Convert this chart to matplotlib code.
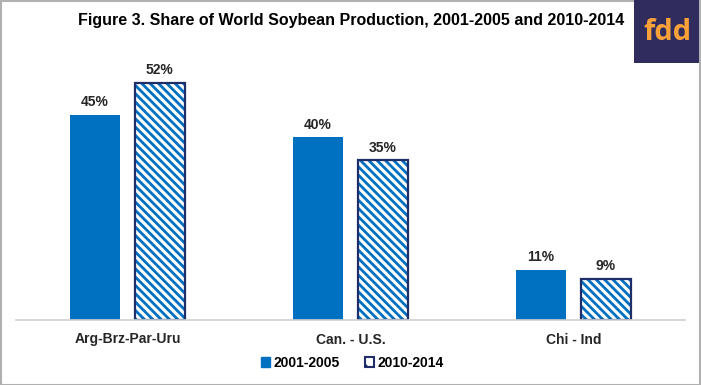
import matplotlib.pyplot as plt
import numpy as np
from matplotlib.patches import Rectangle

categories = ["Arg-Brz-Par-Uru", "Can. - U.S.", "Chi - Ind"]
share_2001_2005 = [45, 40, 11]
share_2010_2014 = [52, 35, 9]
series_names = ["2001-2005", "2010-2014"]

BLUE = "#0070C0"
NAVY = "#1F2E6B"
TEXT = "#262626"

plt.rcParams["font.family"] = ["Liberation Sans", "DejaVu Sans"]
plt.rcParams["hatch.linewidth"] = 2.0

fig = plt.figure(figsize=(7.01, 3.85), dpi=100)
ax = fig.add_axes([16 / 701, (385 - 320) / 385, (685 - 16) / 701, (320 - 46) / 385])

x = np.arange(len(categories))
w = 0.225
off = 0.145

ax.bar(x - off, share_2001_2005, w, color=BLUE, label=series_names[0])
# hatched bars: blue stripes, then a navy outline on top
ax.bar(x + off, share_2010_2014, w, color="white", edgecolor=BLUE, hatch="\\\\\\\\", linewidth=0)
ax.bar(x + off, share_2010_2014, w, fill=False, edgecolor=NAVY, linewidth=1.6)

for xi, v in zip(x - off, share_2001_2005):
    ax.text(xi, v + 1.2, f"{v}%", ha="center", va="bottom", fontsize=10,
            fontweight="bold", color=TEXT)
for xi, v in zip(x + off, share_2010_2014):
    ax.text(xi, v + 1.2, f"{v}%", ha="center", va="bottom", fontsize=10,
            fontweight="bold", color=TEXT)

ax.set_xlim(-0.5, len(categories) - 0.5)
ax.set_ylim(0, 60)
ax.set_yticks([])
ax.set_xticks(x)
ax.set_xticklabels(categories, fontsize=10, fontweight="bold", color=TEXT)
ax.tick_params(axis="x", length=0, pad=9)
for s in ["top", "right", "left"]:
    ax.spines[s].set_visible(False)
ax.spines["bottom"].set_color("#D0D0D0")
ax.spines["bottom"].set_linewidth(1.2)

# legend
h1 = Rectangle((0, 0), 1, 1, color=BLUE)
h2 = Rectangle((0, 0), 1, 1, facecolor="white", edgecolor=NAVY, hatch="\\\\", linewidth=1.5)
fig.legend([h1, h2], series_names, loc="center", bbox_to_anchor=(352 / 701, 1 - 363 / 385),
           ncol=2, frameon=False, handlelength=0.7, handleheight=0.7, handletextpad=0.2,
           columnspacing=1.8, prop={"weight": "bold", "size": 10})

fig.text(78 / 701, 1 - 21 / 385,
         "Figure 3. Share of World Soybean Production, 2001-2005 and 2010-2014",
         ha="left", va="center", fontsize=11.5, fontweight="bold", color="black")

# fdd logo box
fig.patches.append(Rectangle((634 / 701, 1 - 63 / 385), 65 / 701, 63 / 385,
                             transform=fig.transFigure, facecolor="#302C5E",
                             edgecolor="none", zorder=5))
fig.text(667 / 701, 1 - 33 / 385, "fdd", ha="center", va="center", fontsize=21,
         fontweight="bold", color="#F7A13A", family=["Open Sans", "DejaVu Sans"], zorder=6)

# outer border
fig.patches.append(Rectangle((0.5 / 701, 0.5 / 385), 699.5 / 701, 383.5 / 385,
                             transform=fig.transFigure, fill=False,
                             edgecolor="#B0B0B0", linewidth=1.5))

fig.savefig("out.png", dpi=100)
